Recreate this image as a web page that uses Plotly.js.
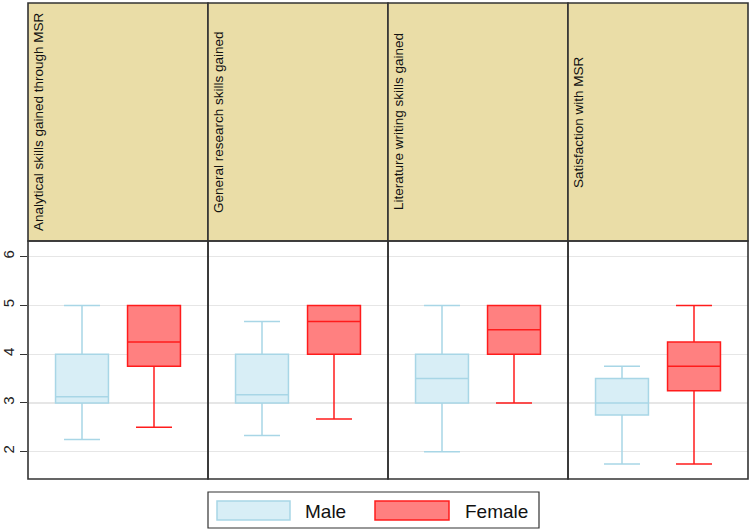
<!DOCTYPE html>
<html>
<head>
<meta charset="utf-8">
<script src="https://cdn.plot.ly/plotly-3.0.1.min.js"></script>
<style>html,body{margin:0;padding:0;background:#fff;}#chart{width:750px;height:531px;}</style>
</head>
<body>
<div id="chart"></div>
<script>
// ---- Data ----
var panels = ["Analytical skills gained through MSR", "General research skills gained", "Literature writing skills gained", "Satisfaction with MSR"];
var groups = ["Male", "Female"];

var maleLow    = [2.25, 2.33, 2.0, 1.75];
var maleQ1     = [3.0, 3.0, 3.0, 2.75];
var maleMedian = [3.125, 3.17, 3.5, 3.0];
var maleQ3     = [4.0, 4.0, 4.0, 3.5];
var maleHigh   = [5.0, 4.67, 5.0, 3.75];

var femaleLow    = [2.5, 2.67, 3.0, 1.75];
var femaleQ1     = [3.75, 4.0, 4.0, 3.25];
var femaleMedian = [4.25, 4.67, 4.5, 3.75];
var femaleQ3     = [5.0, 5.0, 5.0, 4.25];
var femaleHigh   = [5.0, 5.0, 5.0, 5.0];

var yTicks = [2, 3, 4, 5, 6];

// ---- Styles ----
var maleFill = "rgb(216,238,246)", maleLine = "rgb(168,214,230)";
var femaleFill = "rgb(255,128,128)", femaleLine = "rgb(255,28,28)";
var headerFill = "rgb(234,221,167)";
var frameColor = "#333333";
var fontFam = "Liberation Sans, Arial, sans-serif";

var stats = [
  {name: groups[0], low: maleLow, q1: maleQ1, med: maleMedian, q3: maleQ3, high: maleHigh, fill: maleFill, line: maleLine, pos: 0.3},
  {name: groups[1], low: femaleLow, q1: femaleQ1, med: femaleMedian, q3: femaleQ3, high: femaleHigh, fill: femaleFill, line: femaleLine, pos: 0.7}
];

var traces = [];
var layout = {
  width: 750, height: 531,
  margin: {l: 28, r: 2, t: 241, b: 52},
  paper_bgcolor: "#ffffff", plot_bgcolor: "#ffffff",
  showlegend: false,
  font: {family: fontFam, color: "#111"},
  yaxis: {
    range: [1.44, 6.32], tickvals: yTicks, ticktext: yTicks.map(String),
    tickangle: -90, ticks: "outside", ticklen: 7, tickcolor: frameColor, tickwidth: 1,
    tickfont: {size: 15, color: "#222", family: fontFam},
    showgrid: true, gridcolor: "#e6e6e6", gridwidth: 1.2, zeroline: false,
    showline: false, anchor: "x", fixedrange: true
  },
  shapes: [], annotations: []
};

panels.forEach(function(p, i) {
  var ax = i === 0 ? "x" : "x" + (i + 1);
  var axKey = i === 0 ? "xaxis" : "xaxis" + (i + 1);
  layout[axKey] = {
    domain: [i / panels.length, (i + 1) / panels.length], range: [0, 1],
    showticklabels: false, ticks: "", showgrid: false, zeroline: false, showline: false,
    anchor: "y", fixedrange: true
  };
  stats.forEach(function(s) {
    traces.push({
      type: "box", name: s.name, xaxis: ax, yaxis: "y",
      x: [s.pos], q1: [s.q1[i]], median: [s.med[i]], q3: [s.q3[i]],
      lowerfence: [s.low[i]], upperfence: [s.high[i]],
      width: 0.294, whiskerwidth: 0.68, boxpoints: false,
      fillcolor: s.fill, line: {color: s.line, width: 1.5},
      hoverinfo: "skip", showlegend: false
    });
  });
  // header strip
  layout.shapes.push({type: "rect", xref: ax + " domain", yref: "paper", x0: 0, x1: 1, y0: 1, y1: 2,
    fillcolor: headerFill, line: {color: frameColor, width: 1.6}, layer: "below"});
  // panel frame
  layout.shapes.push({type: "rect", xref: ax + " domain", yref: "paper", x0: 0, x1: 1, y0: 0, y1: 1,
    fillcolor: "rgba(0,0,0,0)", line: {color: frameColor, width: 1.6}, layer: "above"});
  layout.annotations.push({
    text: p, xref: ax + " domain", yref: "paper", x: 0, y: 1.5,
    xanchor: "center", yanchor: "middle", xshift: 10, textangle: -90, showarrow: false,
    font: {size: 13.5, color: "#111", family: fontFam}
  });
});

// ---- custom legend ----
function px2x(px) { return (px - 28) / 720; }
function px2y(py) { return (479 - py) / 238; }
layout.shapes.push({type: "rect", xref: "paper", yref: "paper",
  x0: px2x(208), x1: px2x(539), y0: px2y(528), y1: px2y(492),
  fillcolor: "#fff", line: {color: frameColor, width: 1.2}});
var legSw = [[217, 290, 303], [375, 449, 463]];
stats.forEach(function(s, k) {
  layout.shapes.push({type: "rect", xref: "paper", yref: "paper",
    x0: px2x(legSw[k][0]), x1: px2x(legSw[k][1]), y0: px2y(520), y1: px2y(501),
    fillcolor: s.fill, line: {color: s.line, width: 1.5}});
  layout.annotations.push({text: s.name, xref: "paper", yref: "paper",
    x: px2x(legSw[k][2]), y: px2y(511), xanchor: "left", yanchor: "middle", showarrow: false,
    font: {size: 19, color: "#111", family: fontFam}});
});

Plotly.newPlot("chart", traces, layout, {staticPlot: true, displayModeBar: false});
</script>
</body>
</html>
